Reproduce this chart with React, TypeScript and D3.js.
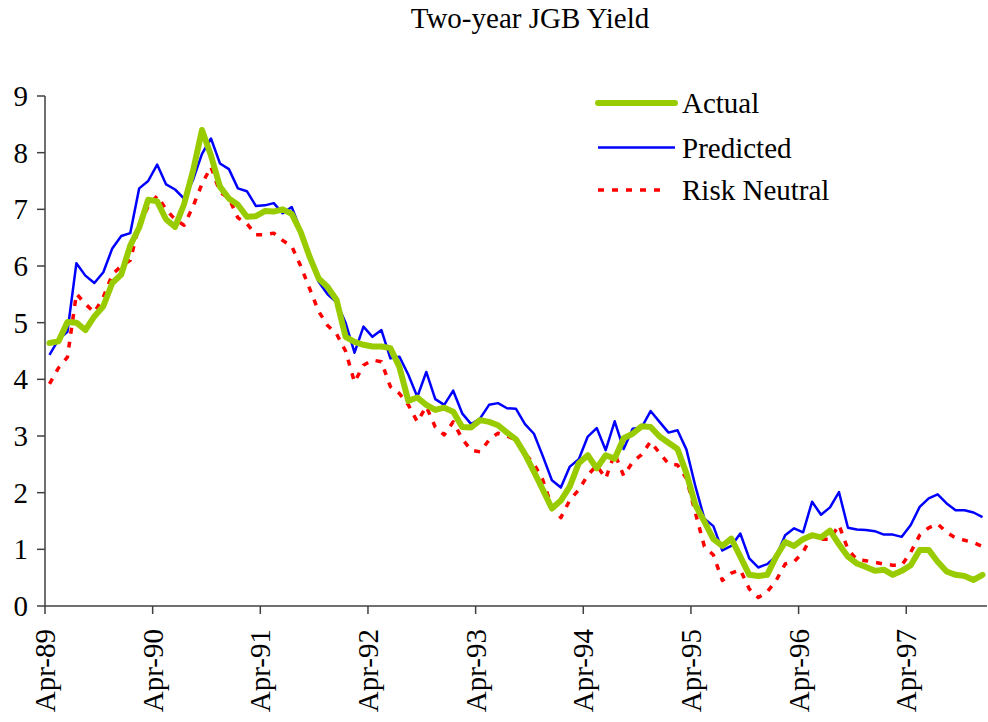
import React from "react";
import * as d3 from "d3";

const title = "Two-year JGB Yield";
const yTicks = [0, 1, 2, 3, 4, 5, 6, 7, 8, 9];
const xTickLabels = ["Apr-89", "Apr-90", "Apr-91", "Apr-92", "Apr-93", "Apr-94", "Apr-95", "Apr-96", "Apr-97"];
const monthNames = ["Apr", "May", "Jun", "Jul", "Aug", "Sep", "Oct", "Nov", "Dec", "Jan", "Feb", "Mar"];
const seriesNames = ["Actual", "Predicted", "Risk Neutral"];

const actual = [
  4.64, 4.67, 5.01, 5.0, 4.87, 5.11, 5.29, 5.7, 5.85, 6.36, 6.68, 7.17,
  7.14, 6.82, 6.69, 7.09, 7.68, 8.4, 7.95, 7.4, 7.19, 7.08, 6.87, 6.88,
  6.97, 6.96, 7.0, 6.92, 6.6, 6.16, 5.78, 5.63, 5.4, 4.75, 4.66, 4.61,
  4.58, 4.58, 4.55, 4.22, 3.62, 3.68, 3.55, 3.46, 3.5, 3.43, 3.16, 3.15,
  3.28, 3.25, 3.19, 3.06, 2.94, 2.68, 2.37, 2.05, 1.72, 1.86, 2.11, 2.52,
  2.66, 2.43, 2.66, 2.6, 2.96, 3.04, 3.17, 3.16, 2.99, 2.88, 2.77, 2.34,
  1.78, 1.49, 1.18, 1.06, 1.19, 0.87, 0.55, 0.53, 0.55, 0.87, 1.13, 1.06,
  1.18, 1.25, 1.21, 1.33, 1.09, 0.87, 0.75, 0.69, 0.62, 0.64, 0.55, 0.62,
  0.72, 0.99, 0.99, 0.78, 0.61, 0.55, 0.53, 0.46, 0.55,
];

const predicted = [
  4.43, 4.7, 4.84, 6.05, 5.83, 5.7, 5.89, 6.31, 6.53, 6.58, 7.37, 7.5,
  7.79, 7.44, 7.35, 7.19, 7.52, 7.98, 8.25, 7.81, 7.71, 7.37, 7.32, 7.06,
  7.07, 7.11, 6.93, 7.04, 6.63, 6.13, 5.72, 5.5, 5.36, 5.0, 4.47, 4.93,
  4.75, 4.87, 4.37, 4.4, 4.08, 3.69, 4.13, 3.65, 3.55, 3.8, 3.4, 3.21,
  3.31, 3.55, 3.58, 3.49, 3.48, 3.21, 3.04, 2.64, 2.22, 2.09, 2.46, 2.59,
  2.99, 3.14, 2.75, 3.26, 2.77, 3.13, 3.15, 3.44, 3.25, 3.06, 3.1, 2.76,
  2.11, 1.54, 1.41, 0.98, 1.06, 1.28, 0.84, 0.68, 0.74, 0.88, 1.25, 1.37,
  1.3, 1.84, 1.61, 1.74, 2.01, 1.38, 1.35, 1.34, 1.32, 1.26, 1.26, 1.22,
  1.43, 1.75, 1.9, 1.97, 1.81, 1.69, 1.69, 1.65, 1.57,
];

const riskNeutral = [
  3.92, 4.2, 4.39, 5.51, 5.33, 5.18, 5.45, 5.85, 6.0, 6.1, 6.72, 7.05,
  7.24, 7.0, 6.82, 6.72, 7.05, 7.45, 7.75, 7.3, 7.2, 6.85, 6.75, 6.55,
  6.55, 6.58, 6.45, 6.35, 6.0, 5.6, 5.2, 4.95, 4.8, 4.5, 3.95, 4.25,
  4.34, 4.31, 3.87, 3.75, 3.55, 3.25, 3.52, 3.16, 3.02, 3.25, 2.95, 2.75,
  2.72, 2.93, 3.05, 3.0, 2.93, 2.69, 2.51, 2.22, 1.75, 1.56, 1.87, 2.05,
  2.31, 2.48, 2.25, 2.69, 2.3, 2.54, 2.67, 2.9, 2.7, 2.51, 2.49, 2.25,
  1.64, 1.05, 0.9, 0.45, 0.58, 0.64, 0.3, 0.15, 0.25, 0.45, 0.74, 0.78,
  0.95, 1.25, 1.18, 1.18, 1.43, 1.0, 0.82, 0.8, 0.77, 0.74, 0.72, 0.72,
  0.95, 1.25, 1.38, 1.45, 1.3, 1.2, 1.16, 1.12, 1.05,
];

const categories = actual.map((_, i) => {
  const m = monthNames[i % 12];
  const yr = 89 + Math.floor((i + 3) / 12);
  return `${m}-${String(yr % 100).padStart(2, "0")}`;
});

const FONT = "'Times New Roman', 'Liberation Serif', serif";

export default function App() {
  const W = 988, H = 722;
  const left = 45, right = 987, top = 96, bottom = 606;
  const n = categories.length;
  const x = d3.scaleLinear().domain([0, n]).range([left, right]);
  const y = d3.scaleLinear().domain([0, 9]).range([bottom, top]);
  const line = d3
    .line<number>()
    .x((_, i) => x(i + 0.5))
    .y((d) => y(d));

  const series = [
    { name: seriesNames[0], data: actual, color: "#99CC00", width: 6, dash: undefined as string | undefined, cap: "round" },
    { name: seriesNames[1], data: predicted, color: "#0000FF", width: 2.5, dash: undefined, cap: "butt" },
    { name: seriesNames[2], data: riskNeutral, color: "#FF0000", width: 3.5, dash: "6,8", cap: "butt" },
  ];
  const drawOrder = [series[2], series[1], series[0]];
  const legendY = [103, 147.5, 190];

  return (
    <svg width={W} height={H} style={{ position: "absolute", left: 0, top: 0, background: "#fff" }} fontFamily={FONT}>
      <rect x={0} y={0} width={W} height={H} fill="#fff" />
      <text x={530} y={28} textAnchor="middle" fontSize={29} fill="#000">{title}</text>

      {/* y axis */}
      <line x1={left} y1={top} x2={left} y2={bottom} stroke="#404040" strokeWidth={1.5} />
      {yTicks.map((t) => (
        <g key={t}>
          <line x1={left - 8} x2={left} y1={y(t)} y2={y(t)} stroke="#404040" strokeWidth={1.5} />
          <text x={28} y={y(t)} dy="0.35em" textAnchor="end" fontSize={29} fill="#000">{t}</text>
        </g>
      ))}

      {/* x axis */}
      <line x1={left} y1={bottom} x2={right} y2={bottom} stroke="#404040" strokeWidth={1.5} />
      {xTickLabels.map((lab) => {
        const idx = categories.indexOf(lab);
        const xx = x(idx);
        return (
          <g key={lab}>
            <line x1={xx} x2={xx} y1={bottom} y2={bottom + 8} stroke="#404040" strokeWidth={1.5} />
            <text
              transform={`translate(${xx},629) rotate(-90)`}
              dy="0.35em"
              textAnchor="end"
              fontSize={29}
              fill="#000"
            >
              {lab}
            </text>
          </g>
        );
      })}

      {/* series */}
      {drawOrder.map((s) => (
        <path
          key={s.name}
          d={line(s.data) || ""}
          fill="none"
          stroke={s.color}
          strokeWidth={s.width}
          strokeDasharray={s.dash}
          strokeLinejoin="round"
          strokeLinecap={s.cap as any}
        />
      ))}

      {/* legend */}
      {series.map((s, i) => (
        <g key={s.name}>
          <line
            x1={598}
            x2={s.dash ? 668 : 675}
            y1={legendY[i]}
            y2={legendY[i]}
            stroke={s.color}
            strokeWidth={s.width}
            strokeDasharray={s.dash}
            strokeLinecap={s.cap as any}
          />
          <text x={682} y={legendY[i]} dy="0.35em" fontSize={29} fill="#000">{s.name}</text>
        </g>
      ))}
    </svg>
  );
}
